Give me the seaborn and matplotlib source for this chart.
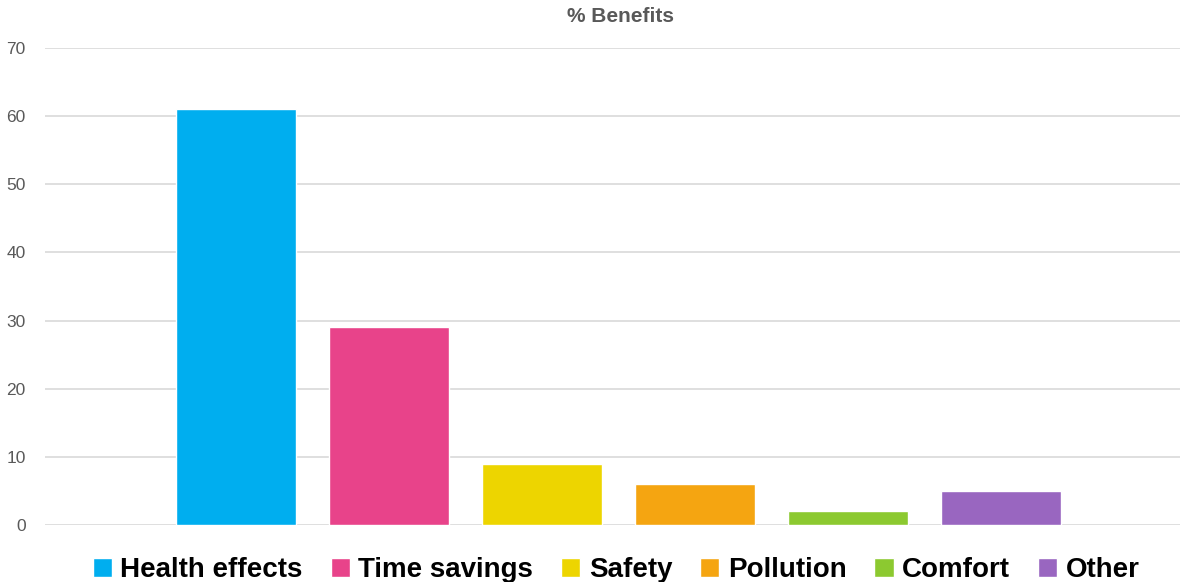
"""Clustered bar chart of perceived benefits (%)."""
from matplotlib import pyplot as plt
import pandas as pd
import seaborn as sns

benefits = ['Health effects', 'Time savings', 'Safety', 'Pollution', 'Comfort', 'Other']
percent = [61, 29, 9, 6, 2, 5]
colors = ['#00AEEF', '#E8438A', '#EDD500', '#F5A511', '#8CC930', '#9966C0']


def main():
    df = pd.DataFrame({'group': [''] * len(benefits), 'benefit': benefits, 'pct': percent})

    sns.set_style('white')
    plt.rcParams['font.family'] = ['Liberation Sans', 'DejaVu Sans']

    fig = plt.figure(figsize=(11.95, 5.82), dpi=100)
    ax = fig.add_axes([0.0377, 0.098, 0.950, 0.8195])
    sns.barplot(data=df, x='group', y='pct', hue='benefit', hue_order=benefits,
                palette=colors, width=0.809, gap=0.216, saturation=1, ax=ax)

    ax.set_xlim(-0.505, 0.495)
    ax.set_ylim(0, 70)
    ax.set_yticks(range(0, 71, 10))
    ax.yaxis.grid(True, color='#D9D9D9', linewidth=1.2)
    ax.set_axisbelow(True)
    for s in ax.spines.values():
        s.set_visible(False)
    ax.set_xticks([])
    ax.set_xlabel('')
    ax.set_ylabel('')
    ax.tick_params(axis='y', labelsize=12.5, labelcolor='#595959', length=0, pad=14)

    fig.text(0.519, 0.972, '% Benefits', ha='center', va='center',
             fontsize=15, fontweight='bold', color='#595959')

    ax.legend(loc='upper center', bbox_to_anchor=(0.503, -0.015), ncol=6, frameon=False,
              handlelength=0.7, handleheight=0.7, handletextpad=0.3, columnspacing=1.0,
              labelcolor='black',
              prop={'family': 'Liberation Sans', 'weight': 'bold', 'size': 20})

    fig.savefig('out.png', dpi=100)


if __name__ == '__main__':
    main()
